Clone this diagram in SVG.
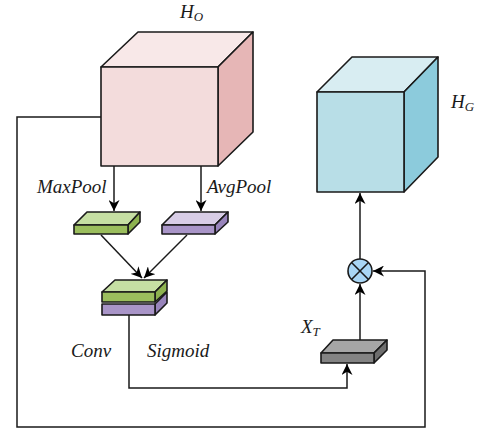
<svg xmlns="http://www.w3.org/2000/svg" width="480" height="434" viewBox="0 0 480 434">
<defs>
<marker id="ah" viewBox="0 0 10 10" refX="10" refY="5" markerWidth="11" markerHeight="11" markerUnits="userSpaceOnUse" orient="auto">
<path d="M0,0 L10,5 L0,10 L3,5 Z" fill="#000"/>
</marker>
<style>
.e{stroke:#1a1a1a;stroke-width:1.6;stroke-linejoin:round}
.c{fill:none;stroke:#1a1a1a;stroke-width:1.5}
.t{font-family:"Liberation Serif","Times New Roman",serif;font-style:italic;font-size:19px;fill:#1a1a1a}
.s{font-family:"Liberation Serif","Times New Roman",serif;font-style:italic;font-size:13px;fill:#1a1a1a}
</style>
</defs>
<rect width="480" height="434" fill="#fff"/>
<g id="connectors">
<polyline class="c" points="101,117 17,117 17,427 425,427 425,271 373,271" marker-end="url(#ah)"/>
<line class="c" x1="114" y1="166" x2="114" y2="211" marker-end="url(#ah)"/>
<line class="c" x1="201" y1="166" x2="201" y2="211" marker-end="url(#ah)"/>
<line class="c" x1="101" y1="235" x2="142" y2="278" marker-end="url(#ah)"/>
<line class="c" x1="187" y1="235" x2="144" y2="278" marker-end="url(#ah)"/>
<polyline class="c" points="129,315 129,388 347,388 347,364" marker-end="url(#ah)"/>
<line class="c" x1="360" y1="340" x2="360" y2="284" marker-end="url(#ah)"/>
<line class="c" x1="360" y1="259" x2="360" y2="193" marker-end="url(#ah)"/>
</g>
<g id="HO">
<polygon class="e" points="101,67 138,32 253,32 218,67" fill="#f8e8e8"/>
<polygon class="e" points="218,67 253,32 253,132 218,166" fill="#e6b6b6"/>
<rect class="e" x="101" y="67" width="117" height="99" fill="#f3dcdc"/>
<text class="t" x="180" y="18">H<tspan class="s" dy="3">O</tspan></text>
</g>
<g id="HG">
<polygon class="e" points="317,92 352,57 438,57 404,92" fill="#d8edf2"/>
<polygon class="e" points="404,92 438,57 438,157 404,192" fill="#8ccbdc"/>
<rect class="e" x="317" y="92" width="87" height="100" fill="#b8dee7"/>
<text class="t" x="451" y="108">H<tspan class="s" dy="3">G</tspan></text>
</g>
<g id="maxpool">
<polygon class="e" points="74,225 87,212 140,212 128,225" fill="#c6dfa3"/>
<polygon class="e" points="128,225 140,212 140,222 128,234" fill="#8db24f"/>
<rect class="e" x="74" y="225" width="54" height="9" fill="#9bbe5d"/>
<text class="t" x="37" y="193">MaxPool</text>
</g>
<g id="avgpool">
<polygon class="e" points="162,225 175,212 228,212 215,225" fill="#d8cde6"/>
<polygon class="e" points="215,225 228,212 228,222 215,234" fill="#9884bb"/>
<rect class="e" x="162" y="225" width="53" height="9" fill="#a995c8"/>
<text class="t" x="207" y="193">AvgPool</text>
</g>
<g id="conv">
<polygon class="e" points="155,304 167,292 167,303 155,315" fill="#9884bb"/>
<rect class="e" x="102" y="304" width="53" height="11" fill="#a995c8"/>
<polygon class="e" points="102,292 115,280 167,280 155,292" fill="#c6dfa3"/>
<polygon class="e" points="155,292 167,280 167,291 155,302" fill="#8db24f"/>
<rect class="e" x="102" y="292" width="53" height="10" fill="#9bbe5d"/>
<text class="t" x="71" y="357">Conv</text>
<text class="t" x="147" y="357">Sigmoid</text>
</g>
<g id="XT">
<polygon class="e" points="321,353 333,340 387,340 374,353" fill="#a6a6a6"/>
<polygon class="e" points="374,353 387,340 387,350 374,363" fill="#6e6e6e"/>
<rect class="e" x="321" y="353" width="53" height="10" fill="#838383"/>
<text class="t" x="301" y="333">X<tspan class="s" dy="3">T</tspan></text>
</g>
<g id="mult">
<circle class="e" cx="360" cy="271" r="12" fill="#a9d6f5"/>
<line class="e" x1="351.5" y1="262.5" x2="368.5" y2="279.5"/>
<line class="e" x1="368.5" y1="262.5" x2="351.5" y2="279.5"/>
</g>
</svg>
